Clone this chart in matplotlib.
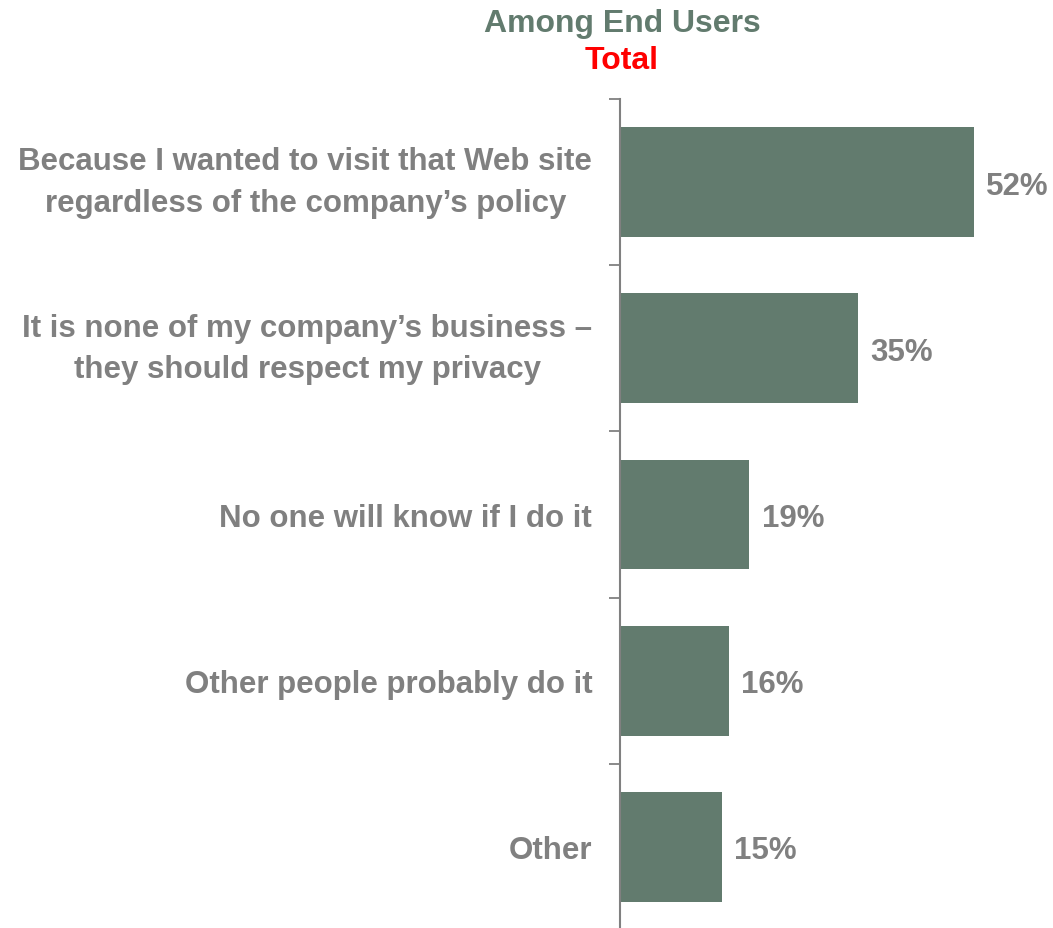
import matplotlib
matplotlib.use("Agg")
import matplotlib.pyplot as plt

reasons = [
    "Because I wanted to visit that Web site\nregardless of the company\u2019s policy",
    "It is none of my company\u2019s business \u2013\nthey should respect my privacy",
    "No one will know if I do it",
    "Other people probably do it",
    "Other",
]
shares = [52, 35, 19, 16, 15]

BAR_COLOR = "#627b6e"
TEXT_GRAY = "#808080"

plt.rcParams['font.family'] = ['Liberation Sans', 'DejaVu Sans']
plt.rcParams['font.weight'] = 'bold'

fig = plt.figure(figsize=(10.53, 9.29), dpi=100)
ax = fig.add_axes([620 / 1053, -2 / 929, 408.6 / 1053, 831 / 929])

pos = list(range(len(reasons)))
ax.barh(pos, shares, height=0.66, color=BAR_COLOR)

for y, v in zip(pos, shares):
    ax.text(v + 1.8, y, f"{v}%", va='center_baseline', ha='left',
            fontsize=22.5, fontweight='bold', color=TEXT_GRAY)

ax.set_xlim(0, 60)
ax.set_ylim(len(reasons) - 0.5, -0.5)

# category labels on major ticks, separators on minor ticks
ax.set_yticks(pos)
ax.set_yticklabels(reasons, fontsize=22.5, fontweight='bold', color=TEXT_GRAY,
                   linespacing=1.5)
for lbl in ax.get_yticklabels():
    lbl.set_multialignment('center')
    if "\n" in lbl.get_text():
        lbl.set_verticalalignment('center')
ax.tick_params(axis='y', which='major', length=0, pad=20)
ax.set_yticks([p - 0.5 for p in pos] + [len(reasons) - 0.5], minor=True)
ax.tick_params(axis='y', which='minor', length=8, width=1.3, color=TEXT_GRAY,
               direction='out')

ax.set_xticks([])
for side in ('top', 'right', 'bottom'):
    ax.spines[side].set_visible(False)
ax.spines['left'].set_color(TEXT_GRAY)
ax.spines['left'].set_linewidth(1.5)

fig.text(622 / 1053, 1 - 24 / 929, "Among End Users", ha='center', va='center',
         fontsize=23, fontweight='bold', color=BAR_COLOR)
fig.text(622 / 1053, 1 - 61 / 929, "Total", ha='center', va='center',
         fontsize=23, fontweight='bold', color='#ff0000')

fig.savefig("out.png", dpi=100)
